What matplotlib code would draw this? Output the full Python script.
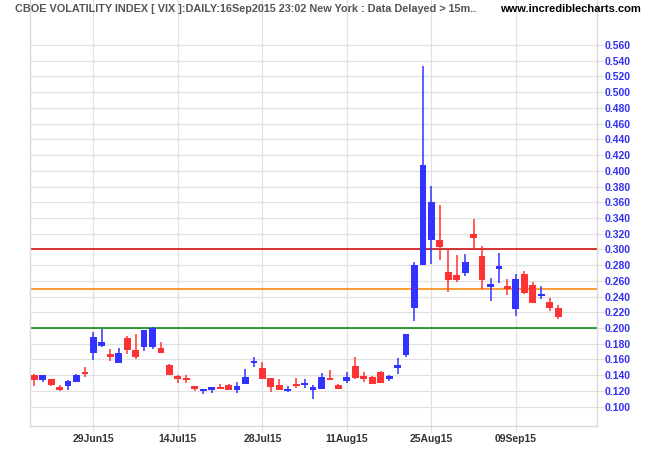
import matplotlib
matplotlib.use("Agg")
import matplotlib.pyplot as plt
import numpy as np

dates = ["18Jun15","19Jun15","22Jun15","23Jun15","24Jun15","25Jun15","26Jun15",
         "29Jun15","30Jun15","01Jul15","02Jul15","06Jul15","07Jul15","08Jul15",
         "09Jul15","10Jul15","13Jul15","14Jul15","15Jul15","16Jul15","17Jul15",
         "20Jul15","21Jul15","22Jul15","23Jul15","24Jul15","27Jul15","28Jul15",
         "29Jul15","30Jul15","31Jul15","03Aug15","04Aug15","05Aug15","06Aug15",
         "07Aug15","10Aug15","11Aug15","12Aug15","13Aug15","14Aug15","17Aug15",
         "18Aug15","19Aug15","20Aug15","21Aug15","24Aug15","25Aug15","26Aug15",
         "27Aug15","28Aug15","31Aug15","01Sep15","02Sep15","03Sep15","04Sep15",
         "08Sep15","09Sep15","10Sep15","11Sep15","14Sep15","15Sep15","16Sep15"]

opens = [.1406,.1343,.1355,.1254,.1266,.1309,.1422,.1678,.1767,.1673,.1550,.1877,.1724,.1754,
         .1754,.1750,.1534,.1394,.1340,.1266,.1194,.1216,.1244,.1274,.1206,.1287,.1555,.1486,
         .1359,.1270,.1195,.1287,.1274,.1211,.1223,.1359,.1270,.1321,.1516,.1384,.1372,.1435,
         .1346,.1490,.1656,.2258,.2801,.3119,.3119,.2712,.2673,.2703,.3195,.2915,.2525,.2754,
         .2506,.2245,.2686,.2546,.2406,.2326,.2249]
highs = [.1410,.1406,.1355,.1279,.1343,.1419,.1500,.1953,.1992,.1737,.1750,.1902,.1928,.1979,
         .2017,.1826,.1546,.1406,.1406,.1266,.1215,.1228,.1283,.1287,.1308,.1473,.1626,.1563,
         .1359,.1346,.1257,.1359,.1346,.1270,.1423,.1461,.1283,.1436,.1626,.1440,.1384,.1448,
         .1397,.1620,.1923,.2839,.5332,.3806,.3564,.3000,.2928,.2941,.3386,.3042,.2635,.2958,
         .2623,.2686,.2724,.2584,.2534,.2381,.2292]
lows = [.1266,.1309,.1258,.1203,.1215,.1309,.1372,.1589,.1754,.1576,.1550,.1665,.1601,.1703,
        .1729,.1678,.1398,.1304,.1296,.1194,.1164,.1172,.1219,.1211,.1172,.1287,.1499,.1346,
        .1181,.1206,.1185,.1236,.1236,.1092,.1223,.1334,.1219,.1300,.1346,.1312,.1287,.1300,
        .1325,.1418,.1627,.2092,.2801,.2818,.2864,.2461,.2589,.2665,.3000,.2491,.2347,.2576,
        .2419,.2156,.2436,.2321,.2372,.2220,.2118]
closes = [.1334,.1406,.1279,.1215,.1330,.1406,.1415,.1890,.1826,.1627,.1686,.1716,.1627,.1979,
          .2000,.1686,.1398,.1347,.1336,.1220,.1200,.1222,.1219,.1211,.1257,.1372,.1561,.1346,
          .1249,.1206,.1201,.1257,.1304,.1244,.1372,.1334,.1219,.1372,.1359,.1346,.1287,.1300,
          .1384,.1533,.1923,.2801,.4073,.3602,.3034,.2614,.2614,.2839,.3148,.2610,.2559,.2788,
          .2502,.2623,.2444,.2321,.2432,.2258,.2143]

tick_dates = ["29Jun15","14Jul15","28Jul15","11Aug15","25Aug15","09Sep15"]
y_ticks = [round(0.10 + 0.02 * k, 3) for k in range(24)]
ref_levels = [0.30, 0.25, 0.20]
ref_colors = ["#cc0000", "#ff8000", "#008000"]

title_text = "CBOE VOLATILITY INDEX [ VIX ]:DAILY:16Sep2015 23:02 New York : Data Delayed > 15m.."
site_text = "www.incrediblecharts.com"

UP = "#3333ff"
DOWN = "#ff3333"
GRID = "#e0e0e0"

fig = plt.figure(figsize=(6.5, 4.5), dpi=100)
ax = fig.add_axes([30/650, 24/450, 567/650, 426/450])

x = np.arange(len(dates))
o = np.array(opens); h = np.array(highs); l = np.array(lows); c = np.array(closes)
colors = [UP if cc >= oo else DOWN for oo, cc in zip(o, c)]

ax.vlines(x, l, h, colors=colors, linewidth=1.1, zorder=3)
bottoms = np.minimum(o, c)
heights = np.maximum(np.abs(c - o), 0.0028)
ax.bar(x, heights, bottom=bottoms, width=0.8, color=colors, linewidth=0, zorder=4)

for lvl, col in zip(ref_levels, ref_colors):
    ax.axhline(lvl, color=col, linewidth=1.1, zorder=2)

ax.set_xlim(-0.5, 66.6)
ax.set_ylim(0.0753, 0.6173)

ax.yaxis.tick_right()
ax.set_yticks(y_ticks)
ax.set_yticklabels([f"{v:.3f}" for v in y_ticks])
ax.tick_params(axis="y", length=5, color=GRID, labelcolor="#3030f0", labelsize=7.5, pad=0.5)
for t in ax.get_yticklabels():
    t.set_fontweight("bold")
    t.set_family("Liberation Sans")

tick_pos = [dates.index(d) for d in tick_dates]
ax.set_xticks(tick_pos)
ax.set_xticklabels(tick_dates)
ax.tick_params(axis="x", length=4, color=GRID, labelcolor="#333333", labelsize=7.5, pad=1.5)
for t in ax.get_xticklabels():
    t.set_fontweight("bold")
    t.set_family("Liberation Sans")

ax.grid(True, color=GRID, linewidth=0.9, zorder=0)
ax.set_axisbelow(True)
for s in ["left", "right", "bottom"]:
    ax.spines[s].set_color("#d8d8d8")
    ax.spines[s].set_linewidth(1)
ax.spines["top"].set_visible(False)

title = fig.text(15/650, 1 - 9/450, title_text, ha="left", va="center", fontsize=8,
                 fontweight="bold", color="#555555", family="Liberation Sans")
fig.text(641/650, 1 - 9/450, site_text, ha="right", va="center", fontsize=8,
         fontweight="bold", color="#000000", family="Liberation Sans")

# fit the title width to the reference span (~462 px)
renderer = fig.canvas.get_renderer()
w = title.get_window_extent(renderer).width
title.set_fontsize(8 * 462 / w)

fig.savefig("out.png", dpi=100)
